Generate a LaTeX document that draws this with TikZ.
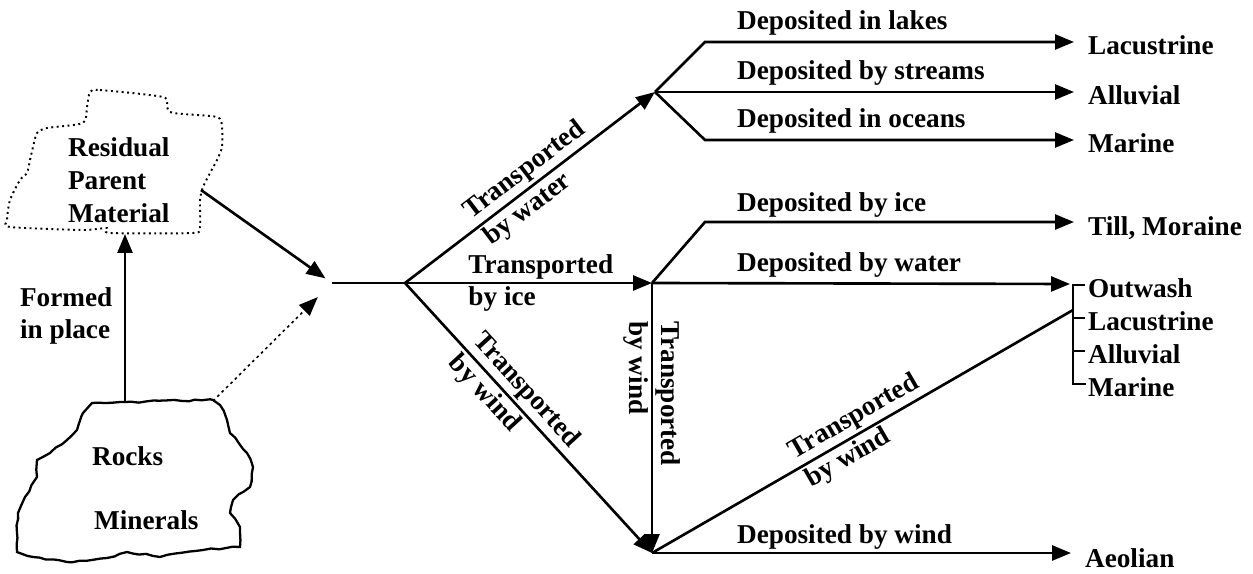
\documentclass[tikz,border=0pt]{standalone}
\usepackage{fontspec}
\setmainfont{Liberation Serif}
\usetikzlibrary{positioning,calc,arrows.meta,decorations.pathmorphing}

\tikzset{
  flow/.style={-{Triangle[length=0.38cm,width=0.3cm]}, line width=1.5pt},
  link/.style={line width=1.5pt},
  lbl/.style={inner sep=1pt, align=left},
  tied/.style={shorten >=0.24cm},
}

\begin{document}
\begin{tikzpicture}[x=0.02cm, y=-0.02cm, font=\fontsize{15.5}{18.7}\selectfont\bfseries]
    \useasboundingbox (0,0) rectangle (1253,574);

    % Parent material sources
    \draw[dotted, line width=1.1pt] plot[smooth cycle, tension=0.4] coordinates {
      (90,92) (100,90) (163,97) (167,107) (173,113) (217,117) (222,127) (222,147)
      (217,160) (210,173) (203,187) (200,200) (200,227) (193,233) (110,233)
      (107,228) (83,230) (10,227) (7,220) (10,200) (20,180) (27,173) (30,160)
      (33,147) (37,133) (47,128) (83,123) (87,107)};
    \draw[line width=1.3pt, decorate, decoration={random steps, segment length=4pt, amplitude=0.6pt}]
      (92,403) -- (125,402) -- (213,400) -- (220,405) -- (227,420) -- (230,433)
      -- (247,453) -- (253,467) -- (250,487) -- (233,500) -- (230,513) -- (240,527)
      -- (240,547) -- (203,550) -- (160,557) -- (127,552) -- (107,558) -- (67,562)
      -- (33,557) -- (17,552) -- (17,533) -- (18,513) -- (25,497) -- (37,477)
      -- (37,460) -- (50,453) -- (67,440) -- (77,430) -- (83,413) -- cycle;

    \node[lbl, anchor=west] (res) at (66,180) {Residual\\Parent\\Material};
    \node[lbl, anchor=west] (rocks) at (90,456) {Rocks};
    \node[lbl, anchor=west] (minerals) at (92,520) {Minerals};
    \node[lbl, anchor=west] (formed) at (18,316) {Formed\\in place};

    \coordinate (resbot) at (125,234);
    \coordinate (resout) at (201,190);
    \coordinate (rocktop) at (125,402);
    \coordinate (rockout) at (213,401);
    \coordinate (M) at (332,283);
    \coordinate (J) at (405,283);
    \coordinate (W) at (655,92);
    \coordinate (I) at (652,283);
    \coordinate (B) at (652,553);
    \coordinate (wup) at (705,42);
    \coordinate (wlow) at (705,140);
    \coordinate (iup) at (705,222);
    \coordinate (brtop) at (1073,284);
    \coordinate (brbot) at (1073,384);
    \coordinate (K) at (1073,310);

    % end products
    \node[lbl, anchor=west] (lac1) at (1086,45) {Lacustrine};
    \node[lbl, anchor=west] (allu1) at (1086,95) {Alluvial};
    \node[lbl, anchor=west] (mar1) at (1086,143) {Marine};
    \node[lbl, anchor=west] (till) at (1086,228) {Till, Moraine};
    \node[lbl, anchor=west] (outw) at (1086,288) {Outwash};
    \node[lbl, anchor=west] (lac2) at (1086,321) {Lacustrine};
    \node[lbl, anchor=west] (allu2) at (1086,354) {Alluvial};
    \node[lbl, anchor=west] (mar2) at (1086,387) {Marine};
    \node[lbl, anchor=west] (aeol) at (1083,558) {Aeolian};

    % deposition labels
    \node[lbl, anchor=west] (dlakes) at (735,23) {Deposited in lakes};
    \node[lbl, anchor=west] (dstreams) at (735,73) {Deposited by streams};
    \node[lbl, anchor=west] (doceans) at (735,121) {Deposited in oceans};
    \node[lbl, anchor=west] (dice) at (735,205) {Deposited by ice};
    \node[lbl, anchor=west] (dwater) at (735,265) {Deposited by water};
    \node[lbl, anchor=west] (dwind) at (735,537) {Deposited by wind};

    % sources to junction
    \draw[flow, shorten >=0.16cm] (resout) -- (M);
    \draw[flow, dotted, line width=0.9pt, shorten >=0.4cm] (rockout) -- (M);
    \draw[flow] (rocktop) -- (resbot);
    \draw[link] (M) -- (J);

    % transport paths
    \draw[flow] (J) -- (W) node[lbl, sloped, pos=0.52] {Transported\\by water};
    \draw[flow] (J) -- (I) node[lbl, pos=0.55] {Transported\\by ice};
    \draw[flow] (J) -- (B) node[lbl, sloped, pos=0.44] {Transported\\by wind};
    \draw[flow] (I) -- (B) node[lbl, rotate=-90, pos=0.41] {Transported\\by wind};
    \draw[link] (B) -- (K) node[lbl, sloped, pos=0.5] {Transported\\by wind};

    % water deposits
    \draw[flow, tied] (W) -- (wup) -- (wup -| lac1.west);
    \draw[flow, tied] (W) -- (W -| allu1.west);
    \draw[flow, tied] (W) -- (wlow) -- (wlow -| mar1.west);

    % ice deposits
    \draw[flow, tied] (I) -- (iup) -- (iup -| till.west);
    \draw[flow, shorten >=0.06cm] (I) -- (brtop);
    \draw[line width=1.2pt] (brtop) -- (brbot) -- (brbot -| mar2.west);
    \foreach \n in {outw, lac2, allu2}
      \draw[line width=1.2pt] (brtop |- \n.west) ++(0,-3) -- ++(12,0);

    % wind deposits
    \draw[flow, tied] (B) -- (B -| aeol.west);
\end{tikzpicture}
\end{document}
